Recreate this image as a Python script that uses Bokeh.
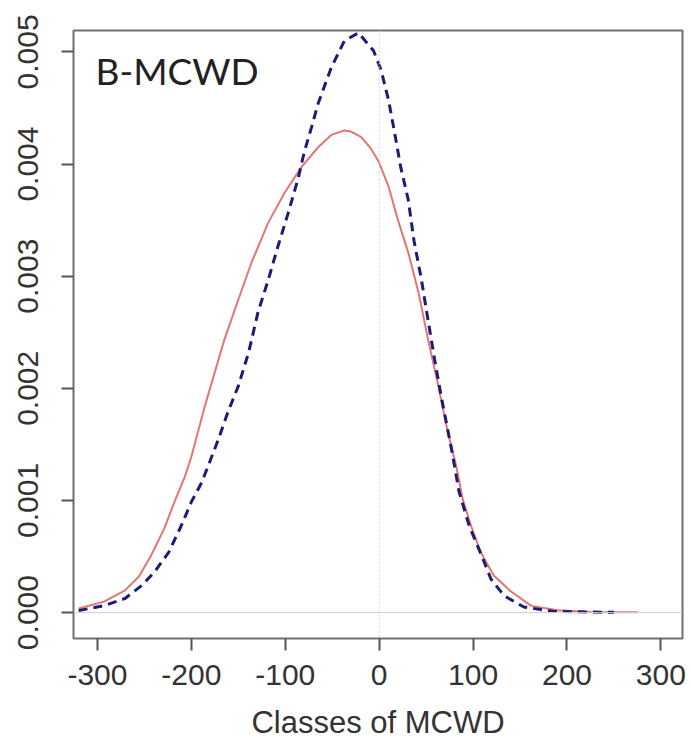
from bokeh.plotting import figure
from bokeh.models import Range1d, FixedTicker, PrintfTickFormatter, Span, Label
from bokeh.embed import file_html
from bokeh.resources import INLINE

# Observed-data density (red, solid)
red_x = [-320, -293, -271, -256, -243, -229, -218, -207, -200, -193, -186, -179, -165, -150, -136,
         -118, -101, -83, -65, -51, -37, -30, -19, -9, -1, 10, 20, 31, 42, 52, 63, 73, 82, 89, 98,
         108, 122, 140, 162, 190, 225, 275]
red_y = [0.000036, 0.000098, 0.000196, 0.00032, 0.000507, 0.000747, 0.000987, 0.00121, 0.00139,
         0.00161, 0.00183, 0.00203, 0.00243, 0.00279, 0.00312, 0.00348, 0.00374, 0.00397, 0.00415,
         0.00426, 0.00430, 0.00429, 0.00424, 0.00414, 0.00403, 0.0038, 0.0035, 0.00321, 0.00285,
         0.00244, 0.00202, 0.00161, 0.00131, 0.00101, 0.00077, 0.00054, 0.00033, 0.00019, 0.00006,
         0.00002, 0.000005, 0.000002]

# Model density (blue, dashed)
blue_x = [-320, -293, -271, -253, -239, -224, -211, -200, -189, -182, -171, -161, -150, -139, -129,
          -118, -108, -97, -86, -80, -72, -65, -51, -37, -22, -6, 2, 10, 16, 23, 31, 37, 45, 52,
          59, 66, 77, 85, 96, 109, 119, 133, 154, 186, 250]
blue_y = [0.000018, 0.000062, 0.000124, 0.00024, 0.000364, 0.00054, 0.00077, 0.000987, 0.00116,
          0.00131, 0.00155, 0.00179, 0.00202, 0.00232, 0.00268, 0.00297, 0.00326, 0.00356, 0.00388,
          0.0041, 0.00433, 0.00454, 0.00486, 0.0051, 0.00517, 0.00501, 0.00484, 0.00457, 0.0043,
          0.00397, 0.00368, 0.00332, 0.00297, 0.00261, 0.00226, 0.00193, 0.00146, 0.00108, 0.00077,
          0.00051, 0.0003, 0.00015, 0.00005, 0.00001, 0.000002]

x_ticks = [-300, -200, -100, 0, 100, 200, 300]
y_ticks = [0.000, 0.001, 0.002, 0.003, 0.004, 0.005]
panel_label = "B-MCWD"
x_title = "Classes of MCWD"

p = figure(width=686, height=742, output_backend="svg", toolbar_location=None,
           x_range=Range1d(-325.5, 323), y_range=Range1d(-0.000231, 0.005191),
           min_border_left=73, min_border_top=30, min_border_right=4, min_border_bottom=102)

p.grid.visible = False
p.background_fill_color = "white"
p.border_fill_color = "white"
p.outline_line_color = "#707070"
p.outline_line_width = 2

for ax in (p.xaxis[0], p.yaxis[0]):
    ax.axis_line_color = None
    ax.major_tick_line_color = "#555555"
    ax.major_tick_line_width = 2
    ax.major_tick_out = 12
    ax.major_tick_in = 0
    ax.minor_tick_line_color = None
    ax.major_label_text_font = "Liberation Sans"
    ax.major_label_text_font_size = "30px"
    ax.major_label_text_color = "#333333"

p.xaxis.ticker = FixedTicker(ticks=x_ticks)
p.xaxis.formatter = PrintfTickFormatter(format="%d")
p.yaxis.ticker = FixedTicker(ticks=y_ticks)
p.yaxis.formatter = PrintfTickFormatter(format="%.3f")
p.yaxis.major_label_orientation = "vertical"
p.yaxis.major_label_standoff = 23
p.xaxis.major_label_standoff = 14

p.xaxis.axis_label = x_title
p.xaxis.axis_label_text_font = "Liberation Sans"
p.xaxis.axis_label_text_font_size = "31px"
p.xaxis.axis_label_text_font_style = "normal"
p.xaxis.axis_label_text_color = "#333333"
p.xaxis.axis_label_standoff = 17

p.add_layout(Span(location=0, dimension="width", line_color="#d0d0d0", line_width=1))
p.add_layout(Span(location=0, dimension="height", line_color="#d0d0d0", line_width=1,
                  line_dash="2 2"))

p.line(red_x, red_y, line_color="#e57575", line_width=2)
p.line(blue_x, blue_y, line_color="#1c1c78", line_width=3, line_dash="9 6")

p.add_layout(Label(x=-302, y=0.00483, text=panel_label, text_font="Lato",
                   text_font_size="37px", text_color="#222222", text_baseline="alphabetic"))

open("out.html", "w").write(file_html(p, INLINE))
